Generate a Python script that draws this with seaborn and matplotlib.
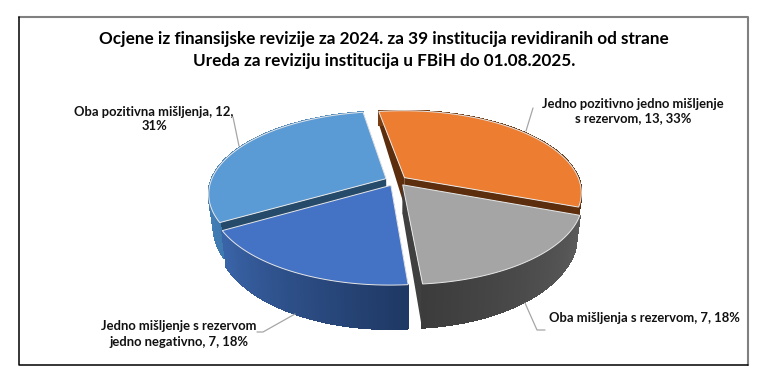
import numpy as np
import matplotlib
matplotlib.use('Agg')
import matplotlib.pyplot as plt
import seaborn as sns
from matplotlib.patches import Polygon

# podaci
categories = ['Jedno pozitivno jedno mišljenje\ns rezervom', 'Oba mišljenja s rezervom',
              'Jedno mišljenje s rezervom\njedno negativno', 'Oba pozitivna mišljenja']
values = [13, 7, 7, 12]
top_colors = ['#ED7D31', '#A5A5A5', '#4472C4', '#5B9BD5']
wall_colors = [('#7a3d12', '#5d2e0e'), ('#5c5c5c', '#3c3c3c'), ('#1f3864', '#3a64a8'), ('#3f7ab0', '#4f8ac0')]
side_colors = ['#5d2e0e', '#404040', '#1f3864', '#264a6a']
label_seps = [', ', ', ', ', ', ',\n']
title = ('Ocjene iz finansijske revizije za 2024. za 39 institucija revidiranih od strane\n'
         'Ureda za reviziju institucija u FBiH do 01.08.2025.')

# raspored (pikseli)
label_pos = [(633, 111), (644, 318), (179, 334), (154, 119)]
leaders = [[(533, 108), (526, 131)], [(525, 303), (537, 330), (545, 330)],
           [(295, 314), (263, 332), (257, 332)], [(233, 117), (239, 146)]]
CX, CY, RX, RY, PERSP = 396, 180.8, 175, 80, 0.18
EXPLODE = 0.063
START = 99.5


def project(u, v, z=0):
    # perspektiva diska, z=1 je donja strana
    w = 1 + PERSP * v
    x = CX + RX * u * (1 - 0.025 * z) / w
    y = CY - RY * v / w + z * (28.5 - 14.5 * v)
    return x, y


sns.set_theme(style='white')
plt.rcParams['font.family'] = ['Lato', 'DejaVu Sans']

fig = plt.figure(figsize=(7.68, 3.84), dpi=100)
ax = fig.add_axes([0, 0, 1, 1])
ax.set_xlim(0, 768)
ax.set_ylim(384, 0)
ax.axis('off')

# okvir
ax.plot([19, 748, 748], [17, 17, 365], color='#808080', lw=1.5)
ax.plot([19, 19, 748], [17, 365, 365], color='black', lw=1.1)

total = sum(values)
angles = START - np.cumsum([0] + values) / total * 360
palette = sns.color_palette(top_colors)

# redoslijed crtanja: prvo zadnji isjecci
for i in [3, 0, 2, 1]:
    a0, a1 = angles[i], angles[i + 1]
    mid = np.radians((a0 + a1) / 2)
    ox, oy = EXPLODE * np.cos(mid), EXPLODE * np.sin(mid)
    t = np.radians(np.linspace(a0, a1, 60))
    u = ox + np.cos(t)
    v = oy + np.sin(t)

    # radijalne strane
    for k in [0, -1]:
        quad = [project(ox, oy), project(u[k], v[k]), project(u[k], v[k], 1), project(ox, oy, 1)]
        ax.add_patch(Polygon(quad, facecolor=side_colors[i], edgecolor='none'))

    # vanjski zid s gradijentom
    shades = sns.blend_palette(wall_colors[i], len(t) - 1)
    for k in range(len(t) - 1):
        quad = [project(u[k], v[k]), project(u[k + 1], v[k + 1]),
                project(u[k + 1], v[k + 1], 1), project(u[k], v[k], 1)]
        ax.add_patch(Polygon(quad, facecolor=shades[k], edgecolor=shades[k], lw=0.9, antialiased=False))

    # gornja strana
    xs, ys = project(np.r_[ox, u], np.r_[oy, v])
    ax.add_patch(Polygon(np.c_[xs, ys], facecolor=palette[i], edgecolor='#e8e8e8', lw=0.7))

for pts in leaders:
    ax.plot(*zip(*pts), color='#a6a6a6', lw=0.9)

for name, val, sep, pos in zip(categories, values, label_seps, label_pos):
    pct = round(val / total * 100)
    ax.text(pos[0], pos[1], f'{name}, {val}{sep}{pct}%', ha='center', va='center', fontsize=9.4,
            fontweight='bold', color='#111111', linespacing=1.3)

ax.text(384, 50, title, ha='center', va='center', fontsize=12.3, fontweight='bold', color='black',
        linespacing=1.45)

fig.savefig('out.png', dpi=100)
